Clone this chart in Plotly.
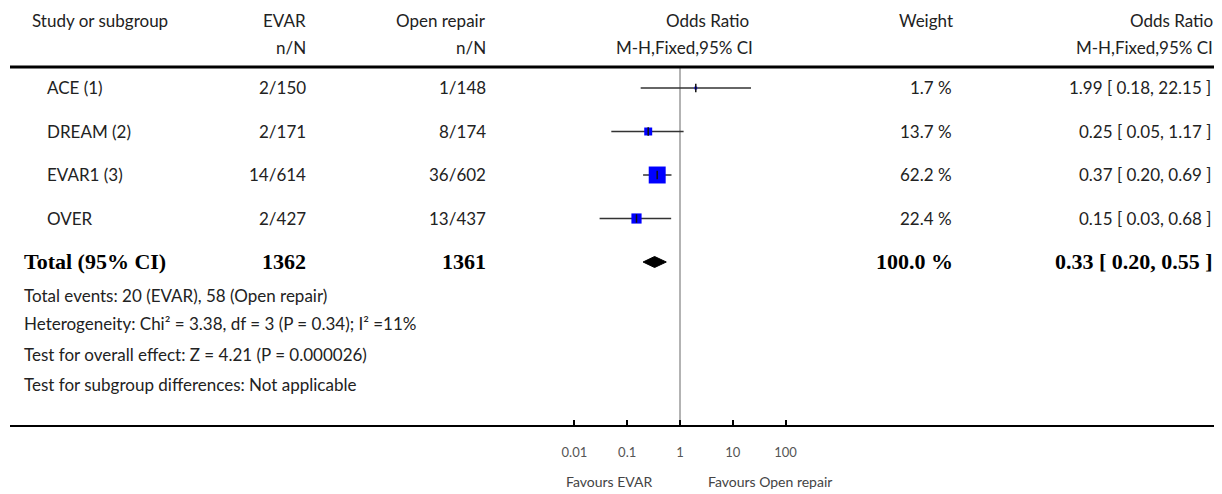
import math
import plotly.graph_objects as go

# ---------------- data ----------------
studies = ["ACE (1)", "DREAM (2)", "EVAR1 (3)", "OVER"]
evar_events = [2, 2, 14, 2]
evar_total = [150, 171, 614, 427]
open_events = [1, 8, 36, 13]
open_total = [148, 174, 602, 437]
weights = [1.7, 13.7, 62.2, 22.4]
or_est = [1.99, 0.25, 0.37, 0.15]
or_lo = [0.18, 0.05, 0.20, 0.03]
or_hi = [22.15, 1.17, 0.69, 0.68]

total_label = "Total (95% CI)"
total_evar = 1362
total_open = 1361
total_weight = 100.0
total_est = 0.33
total_lo = 0.20
total_hi = 0.55

footnotes = [
    "Total events: 20 (EVAR), 58 (Open repair)",
    "Heterogeneity: Chi\u00b2 = 3.38, df = 3 (P = 0.34); I\u00b2 =11%",
    "Test for overall effect: Z = 4.21 (P = 0.000026)",
    "Test for subgroup differences: Not applicable",
]
tick_vals = [0.01, 0.1, 1, 10, 100]
tick_text = ["0.01", "0.1", "1", "10", "100"]
favours_left = "Favours EVAR"
favours_right = "Favours Open repair"

# ---------------- layout geometry (reference-window pixels) ----------------
OFF = 8                       # page body margin
W, H = 1222 - OFF, 494 - OFF
PX_PER_DEC = 52.8
X_ONE = 680
X_LEFT, X_RIGHT = 10, 1222
Y_TOP, Y_AXIS = 67, 425
ROW0, ROW_STEP = 88, 43.5


def px_x(p):
    return (p - OFF) / W


def px_y(p):
    return 1 - (p - OFF) / H


x_range = [-(X_ONE - X_LEFT) / PX_PER_DEC, (X_RIGHT - X_ONE) / PX_PER_DEC]
y_range = [(Y_AXIS - ROW0) / ROW_STEP, -(ROW0 - Y_TOP) / ROW_STEP]

FONT = "Lato, 'Open Sans', sans-serif"
SERIF = "'Liberation Serif', 'DejaVu Serif', serif"
TXT = "#222222"
FS = 17

fig = go.Figure()

rows = list(range(len(studies)))
total_row = len(studies)

# null line
fig.add_trace(go.Scatter(x=[1, 1], y=y_range, mode="lines",
                         line=dict(color="#9a9a9a", width=1.5),
                         hoverinfo="skip", showlegend=False))

# CI lines
ci_x, ci_y = [], []
for i in rows:
    ci_x += [or_lo[i], or_hi[i], None]
    ci_y += [i, i, None]
fig.add_trace(go.Scatter(x=ci_x, y=ci_y, mode="lines",
                         line=dict(color="#333333", width=1.5),
                         hoverinfo="skip", showlegend=False))

# weight squares
fig.add_trace(go.Scatter(x=or_est, y=rows, mode="markers",
                         marker=dict(symbol="square", color="#0000ff", opacity=1,
                                     size=[2.15 * math.sqrt(w) for w in weights],
                                     line=dict(width=0)),
                         hoverinfo="skip", showlegend=False))
# estimate ticks
fig.add_trace(go.Scatter(x=or_est, y=rows, mode="markers",
                         marker=dict(symbol="line-ns", size=6,
                                     line=dict(color="#111111", width=1.5)),
                         hoverinfo="skip", showlegend=False))

# total diamond
dh = 5.5 / ROW_STEP
fig.add_trace(go.Scatter(x=[total_lo, total_est, total_hi, total_est, total_lo],
                         y=[total_row, total_row - dh, total_row, total_row + dh, total_row],
                         mode="lines", fill="toself", fillcolor="#000000",
                         line=dict(color="#000000", width=1),
                         hoverinfo="skip", showlegend=False))

ann = []


def text(x, y, s, anchor="left", yref="y", size=FS, font=FONT, color=TXT):
    ann.append(dict(x=x, y=y, xref="paper", yref=yref, text=s, showarrow=False,
                    xanchor=anchor, yanchor="middle",
                    font=dict(family=font, size=size, color=color)))


# header
text(px_x(30), px_y(20), "Study or subgroup", yref="paper")
text(px_x(308), px_y(20), "EVAR", "right", yref="paper")
text(px_x(308), px_y(47), "n/N", "right", yref="paper")
text(px_x(488), px_y(20), "Open repair", "right", yref="paper")
text(px_x(488), px_y(47), "n/N", "right", yref="paper")
text(px_x(751), px_y(20), "Odds Ratio", "right", yref="paper")
text(px_x(755), px_y(47), "M-H,Fixed,95% CI", "right", yref="paper")
text(px_x(955), px_y(20), "Weight", "right", yref="paper")
text(px_x(1215), px_y(20), "Odds Ratio", "right", yref="paper")
text(px_x(1215), px_y(47), "M-H,Fixed,95% CI", "right", yref="paper")

# study rows
for i in rows:
    text(px_x(45), i, studies[i])
    text(px_x(308), i, f"{evar_events[i]}/{evar_total[i]}", "right")
    text(px_x(488), i, f"{open_events[i]}/{open_total[i]}", "right")
    text(px_x(954), i, f"{weights[i]:.1f} %", "right")
    text(px_x(1213), i, f"{or_est[i]:.2f} [ {or_lo[i]:.2f}, {or_hi[i]:.2f} ]", "right")

# total row
TB = 22
text(px_x(22), total_row, f"<b>{total_label}</b>", size=TB, font=SERIF, color="#000")
text(px_x(308), total_row, f"<b>{total_evar}</b>", "right", size=TB, font=SERIF, color="#000")
text(px_x(488), total_row, f"<b>{total_open}</b>", "right", size=TB, font=SERIF, color="#000")
text(px_x(955), total_row, f"<b>{total_weight:.1f} %</b>", "right", size=TB, font=SERIF, color="#000")
text(px_x(1215), total_row,
     f"<b>{total_est:.2f} [ {total_lo:.2f}, {total_hi:.2f} ]</b>", "right",
     size=TB, font=SERIF, color="#000")

# footnotes
for s, yp in zip(footnotes, [295, 323, 354, 384]):
    text(px_x(22), px_y(yp), s, yref="paper")

# favours labels
text(px_x(609), px_y(481), favours_left, "center", yref="paper", size=14, color="#444")
text(px_x(770), px_y(481), favours_right, "center", yref="paper", size=14, color="#444")

fig.update_layout(
    width=W, height=H,
    margin=dict(l=0, r=0, t=0, b=0),
    paper_bgcolor="white", plot_bgcolor="white",
    showlegend=False,
    annotations=ann,
    shapes=[dict(type="line", xref="paper", yref="paper",
                 x0=px_x(X_LEFT), x1=px_x(X_RIGHT), y0=px_y(Y_TOP), y1=px_y(Y_TOP),
                 line=dict(color="#000000", width=3))],
    xaxis=dict(type="log", range=x_range, domain=[px_x(X_LEFT), 1],
               tickvals=tick_vals, ticktext=tick_text,
               ticks="inside", ticklen=5, tickwidth=1.5, tickcolor="#000",
               showline=True, linecolor="#000", linewidth=2,
               showgrid=False, zeroline=False, automargin=False,
               ticklabelstandoff=14,
               tickfont=dict(family=FONT, size=13, color="#555")),
    yaxis=dict(range=y_range, domain=[px_y(Y_AXIS), px_y(Y_TOP)],
               visible=False, showgrid=False, zeroline=False, automargin=False),
)

fig.write_html("out.html")
